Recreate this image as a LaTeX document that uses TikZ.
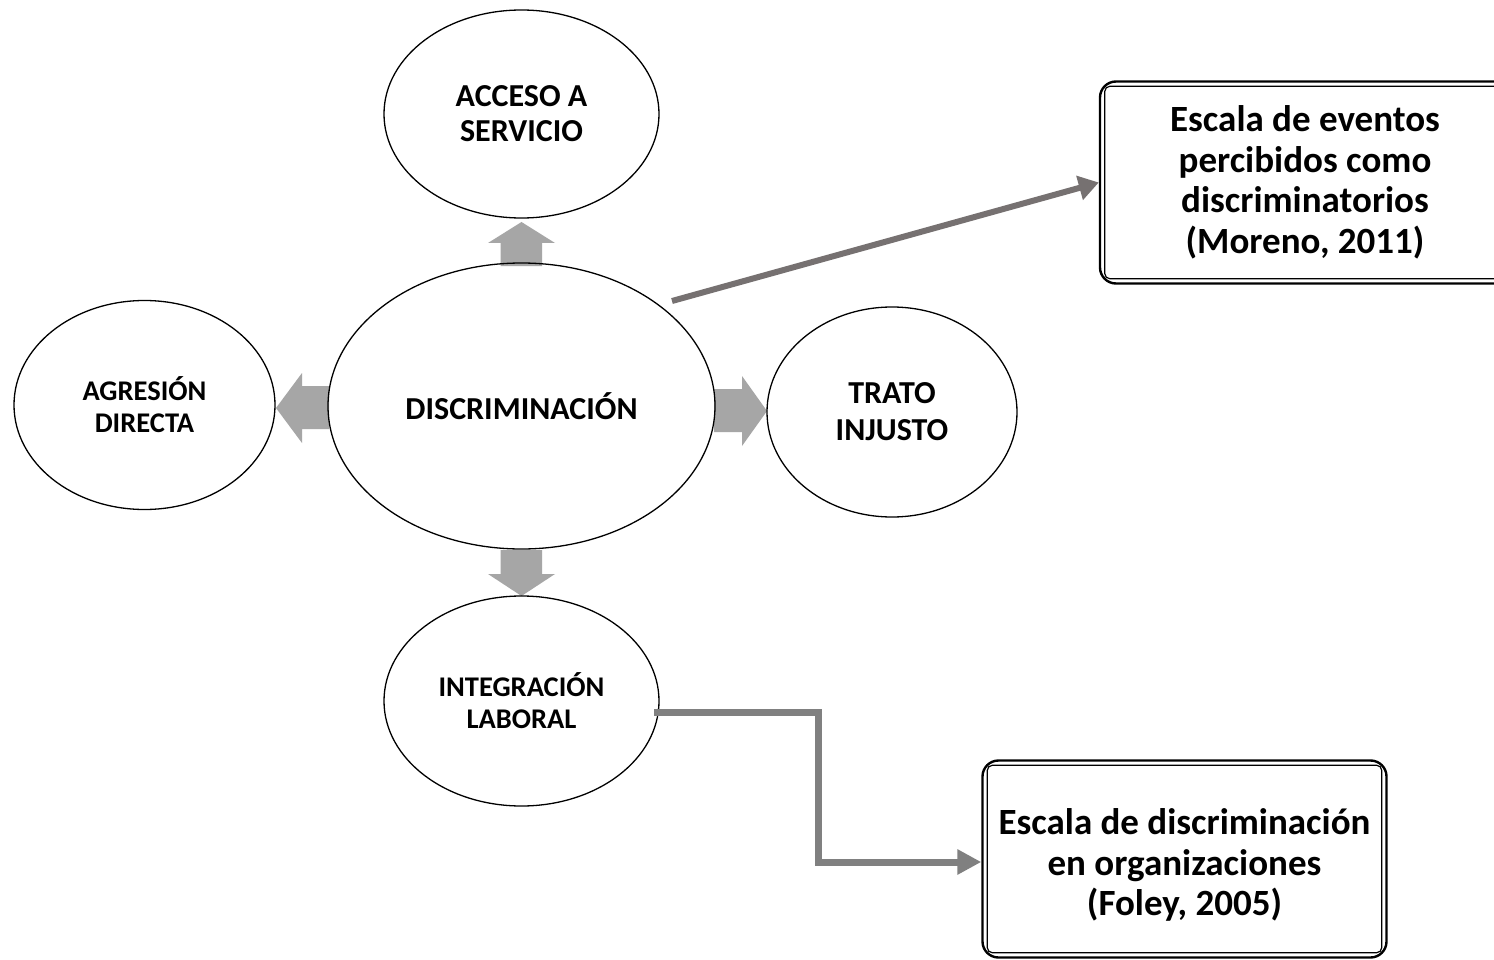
\documentclass[tikz,border=0pt]{standalone}
\usepackage{fontspec}
\setmainfont{Carlito}
\usetikzlibrary{arrows.meta,calc,shapes.geometric}
\definecolor{blockgray}{HTML}{A6A6A6}
\definecolor{lineone}{HTML}{767171}
\definecolor{linetwo}{HTML}{808080}
\begin{document}
\begin{tikzpicture}[x=1pt,y=-1pt,
  oval/.style={draw=black, line width=1.3pt, ellipse, inner sep=0pt, align=center, font=\bfseries},
  scalebox/.style={draw=black, line width=2.4pt, rounded corners=16pt, inner sep=0pt, align=center, font=\bfseries\fontsize{37}{40.5}\selectfont},
  innerframe/.style={draw=black, line width=1.2pt, rounded corners=5pt},
  linkone/.style={draw=lineone, line width=6pt, -{Triangle[length=20pt,width=24pt]}},
  linktwo/.style={draw=linetwo, line width=7pt, -{Triangle[length=24pt,width=24pt]}}
]
\useasboundingbox (0,0) rectangle (1494,960);
\clip (0,0) rectangle (1494,960);
\fill[white] (0,0) rectangle (1494,960);

% block arrows
\fill[blockgray] (500.5,266) -- (500.5,243) -- (488,243) -- (521.5,222) -- (555,243) -- (542,243) -- (542,266) -- cycle;
\fill[blockgray] (329,386) -- (302,386) -- (302,373) -- (276,408) -- (302,443) -- (302,429) -- (329,429) -- cycle;
\fill[blockgray] (714,389) -- (742,389) -- (742,376) -- (767,411) -- (742,446) -- (742,432) -- (714,432) -- cycle;
\fill[blockgray] (500.5,550) -- (500.5,574) -- (488,574) -- (521.5,596) -- (555,574) -- (542,574) -- (542,550) -- cycle;

% ellipses
\node[oval, minimum width=275pt, minimum height=208pt, font=\bfseries\fontsize{32}{35}\selectfont] (acceso) at (521.5,114) {ACCESO A\\SERVICIO};
\node[oval, minimum width=387pt, minimum height=286pt, font=\bfseries\fontsize{32}{35}\selectfont] (disc) at (521.5,406) {DISCRIMINACIÓN};
\node[oval, minimum width=261pt, minimum height=209pt, font=\bfseries\fontsize{28.5}{32}\selectfont] (agresion) at (144.5,405) {AGRESIÓN\\DIRECTA};
\node[oval, minimum width=250pt, minimum height=210pt, font=\bfseries\fontsize{32}{37}\selectfont] (trato) at (892,412) {TRATO\\INJUSTO};
\node[oval, minimum width=275pt, minimum height=210pt, font=\bfseries\fontsize{28.5}{32}\selectfont] (integ) at (521.5,701) {INTEGRACIÓN\\LABORAL};

% boxes
\node[scalebox, minimum width=410pt, minimum height=202pt] (box1) at (1305,182.5) {Escala de eventos\\percibidos como\\discriminatorios\\(Moreno, 2011)};
\draw[innerframe] ($(box1.south west)+(6,-6)$) rectangle ($(box1.north east)+(-6,6)$);
\node[scalebox, minimum width=404pt, minimum height=197pt] (box2) at (1184.5,859) {\rule{0pt}{38pt}Escala de discriminación\\en organizaciones\\(Foley, 2005)};
\draw[innerframe] ($(box2.south west)+(6,-6)$) rectangle ($(box2.north east)+(-6,6)$);

% connectors
\coordinate (d1) at (672,301);
\coordinate (i1) at (654,712);
\coordinate (b2in) at ($(box2.west)+(0,3)$);
\draw[linkone] (d1) -- (box1.west);
\draw[linktwo] (i1) -- (818,712) |- (b2in);
\end{tikzpicture}
\end{document}
